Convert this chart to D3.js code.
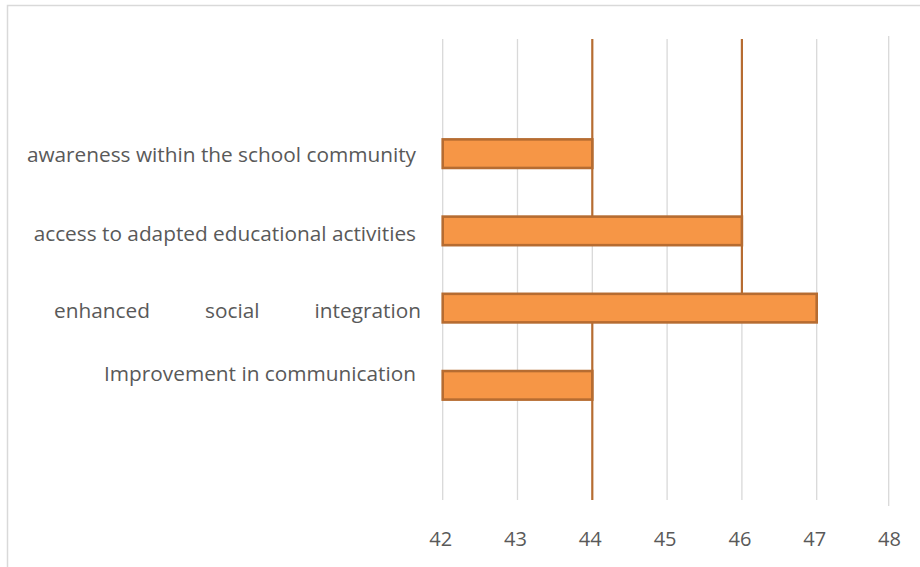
<!DOCTYPE html>
<html>
<head>
<meta charset="utf-8">
<script src="https://cdn.jsdelivr.net/npm/d3@7"></script>
<style>
  body { margin: 0; background: #fff; }
  svg text { font-family: "Open Sans", "Noto Sans", sans-serif; fill: #595959; }
</style>
</head>
<body>
<script>
// categories top to bottom, as shown
const categories = [
  'awareness within the school community',
  'access to adapted educational activities',
  'enhanced social integration',
  'Improvement in communication'
];
const values = [44, 46, 47, 44];
const ticks = [42, 43, 44, 45, 46, 47, 48];

// vertical series lines at bar ends (start / end given as band edges)
const lineValues = [44, 46, 44];
const lineFrom = [null, null, 'enhanced social integration'];
const lineTo = ['access to adapted educational activities', 'enhanced social integration', null];

const width = 920, height = 567;
const plot = {left: 442.7, right: 891.5, top: 39, bottom: 500};

const svg = d3.select('body').append('svg')
  .attr('width', width).attr('height', height);

// chart frame
svg.append('rect')
  .attr('x', 7.5).attr('y', 5.5)
  .attr('width', width + 10).attr('height', height + 10)
  .attr('fill', 'none')
  .attr('stroke', '#d9d9d9')
  .attr('stroke-width', 1.5);

const x = d3.scaleLinear().domain([42, 48]).range([plot.left, plot.right]);
const y = d3.scaleBand()
  .domain(categories)
  .range([plot.top, plot.bottom])
  .paddingInner(0.63)
  .paddingOuter(1.3);

// gridlines
svg.append('g')
  .selectAll('line')
  .data(ticks)
  .enter().append('line')
  .attr('x1', d => x(d) - (d === 48 ? 2.8 : 0))
  .attr('x2', d => x(d) - (d === 48 ? 2.8 : 0))
  .attr('y1', d => d === 48 ? plot.top - 3 : plot.top)
  .attr('y2', d => d === 48 ? plot.bottom + 6 : plot.bottom)
  .attr('stroke', '#d9d9d9')
  .attr('stroke-width', 1.3);

// series lines
svg.append('g')
  .selectAll('line')
  .data(lineValues)
  .enter().append('line')
  .attr('x1', d => x(d)).attr('x2', d => x(d))
  .attr('y1', (d, i) => lineFrom[i] ? y(lineFrom[i]) + y.bandwidth() : plot.top)
  .attr('y2', (d, i) => lineTo[i] ? y(lineTo[i]) : plot.bottom)
  .attr('stroke', '#b66c31')
  .attr('stroke-width', 2.2);

// bars
svg.append('g')
  .selectAll('rect')
  .data(values)
  .enter().append('rect')
  .attr('x', x(42))
  .attr('y', (d, i) => y(categories[i]))
  .attr('width', d => x(d) - x(42))
  .attr('height', y.bandwidth())
  .attr('fill', '#f69646')
  .attr('stroke', '#b66c31')
  .attr('stroke-width', 2.6);

// x axis labels
svg.append('g')
  .selectAll('text')
  .data(ticks)
  .enter().append('text')
  .attr('x', d => x(d) - 2)
  .attr('y', 539)
  .attr('dy', '0.35em')
  .attr('text-anchor', 'middle')
  .attr('font-size', 20)
  .text(d => d);

// category labels
const nudge = [1, 3, 3, -12];
const labels = svg.append('g')
  .selectAll('text')
  .data(categories)
  .enter().append('text')
  .attr('x', 416)
  .attr('y', (d, i) => y(d) + y.bandwidth() / 2 + nudge[i])
  .attr('dy', '0.35em')
  .attr('text-anchor', 'end')
  .attr('font-size', 20.8)
  .text(d => d);

// justified label
labels.filter(d => d === 'enhanced social integration')
  .attr('x', 421)
  .each(function() {
    const w = this.getComputedTextLength();
    d3.select(this).attr('word-spacing', (367 - w) / 2);
  });
</script>
</body>
</html>
